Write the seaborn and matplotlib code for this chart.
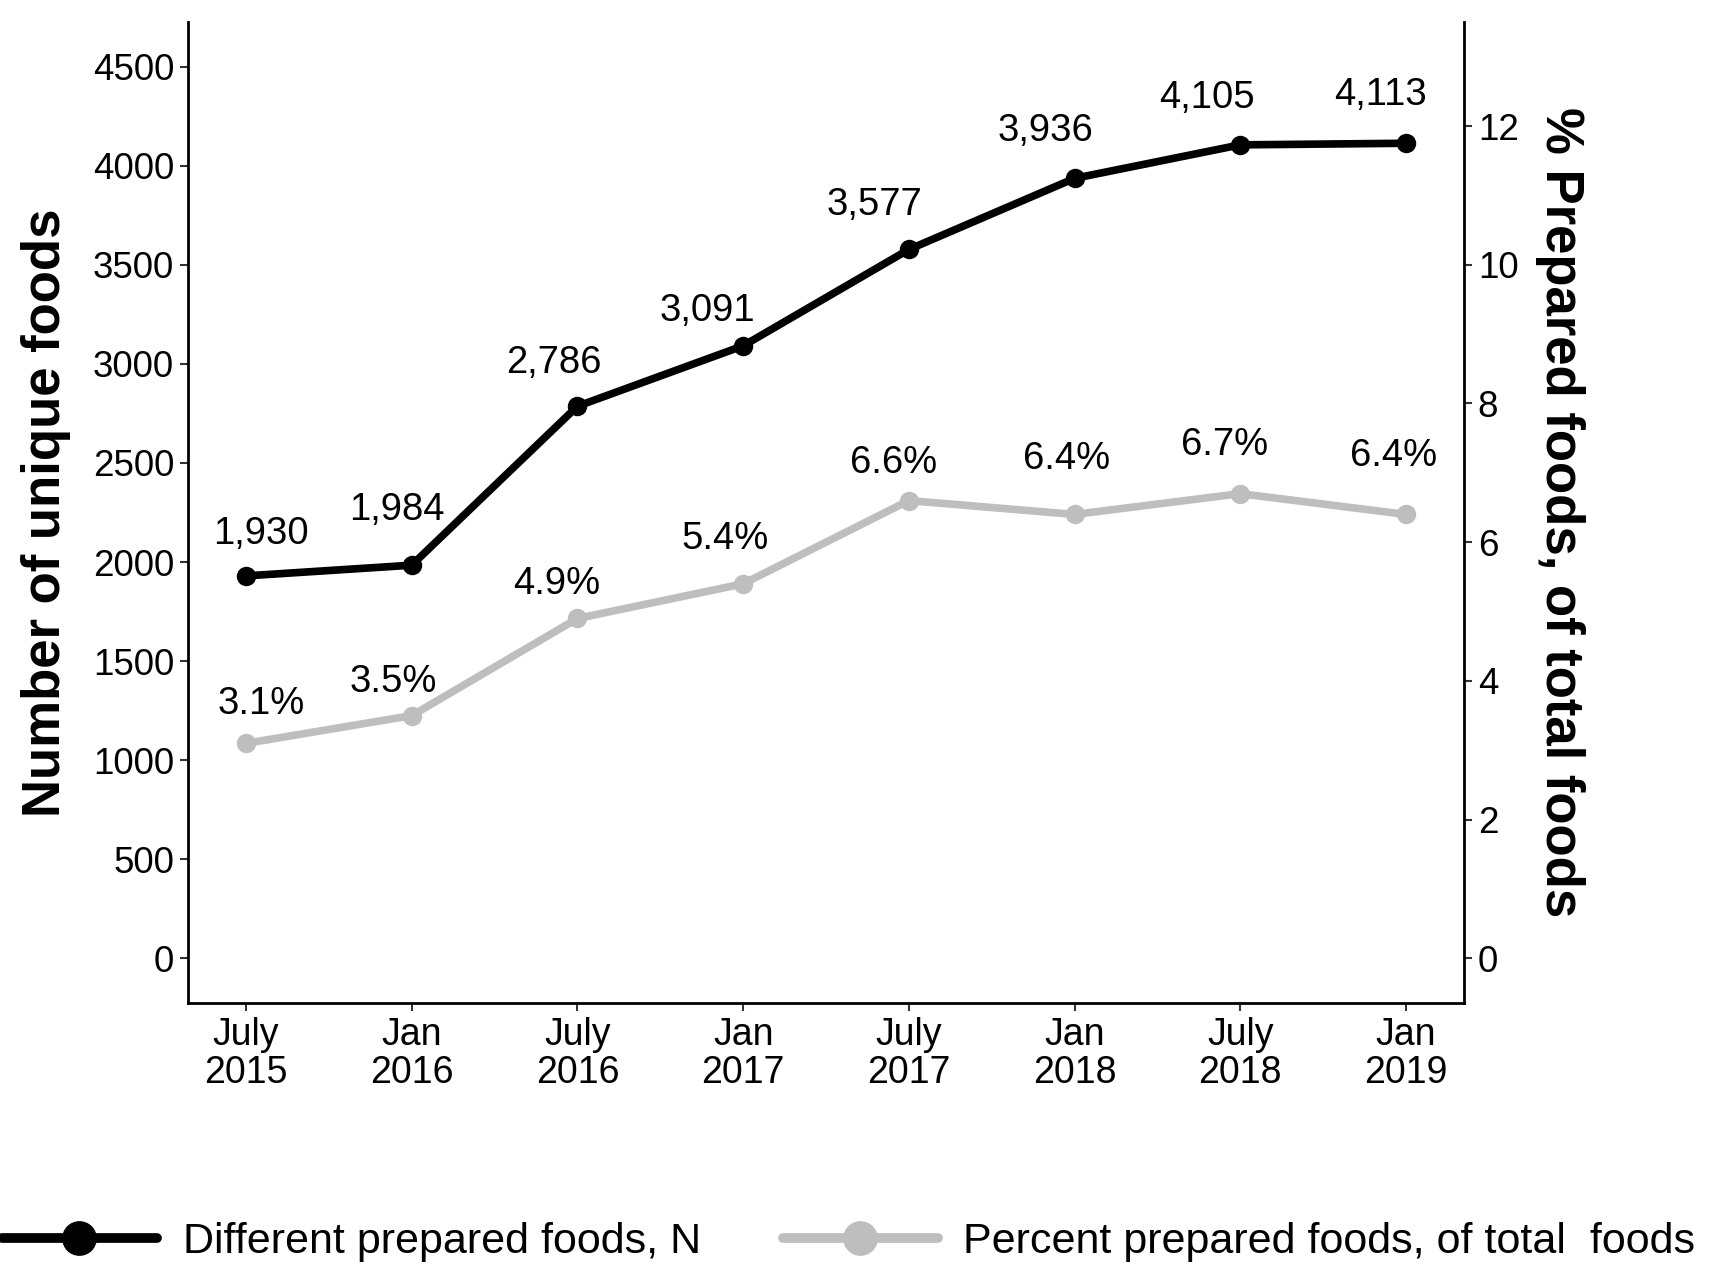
import numpy as np
import pandas as pd
import matplotlib
matplotlib.use("Agg")
import matplotlib.pyplot as plt
from matplotlib.lines import Line2D
import seaborn as sns

# survey waves and values
waves = ["July\n2015", "Jan\n2016", "July\n2016", "Jan\n2017",
         "July\n2017", "Jan\n2018", "July\n2018", "Jan\n2019"]
n_foods = [1930, 1984, 2786, 3091, 3577, 3936, 4105, 4113]
pct_foods = [3.1, 3.5, 4.9, 5.4, 6.6, 6.4, 6.7, 6.4]

# label nudges (points) so text sits like the original
n_dx = [11, -11, -17, -26, -25, -21, -24, -18]
n_dy = [30, 40, 31, 25, 32, 34, 34, 35]
p_dx = [11, -13, -15, -13, -11, -6, -11, -9]
p_dy = [28, 24, 25, 32, 27, 40, 35, 42]

BLACK = "#000000"
GREY = "#BEBEBE"
SCALE = 350  # left-axis units per percent point

sns.set_theme(style="white")
plt.rcParams["font.family"] = ["Liberation Sans", "DejaVu Sans"]
plt.rcParams.update({"text.color": "black", "axes.labelcolor": "black",
                     "xtick.color": "black", "ytick.color": "black"})

df = pd.DataFrame({"pos": np.arange(len(waves)), "n": n_foods, "pct": pct_foods})

fig = plt.figure(figsize=(17.11, 12.71), dpi=100)
ax = fig.add_axes([0.1099, 0.2109, 0.7457, 0.7718])
ax2 = ax.twinx()

sns.lineplot(data=df, x="pos", y="n", ax=ax, color=BLACK, lw=5.5,
             marker="o", markersize=14, markeredgewidth=0)
sns.lineplot(data=df, x="pos", y="pct", ax=ax2, color=GREY, lw=5.5,
             marker="o", markersize=14, markeredgewidth=0)

for i, v in enumerate(n_foods):
    ax.annotate(f"{v:,}", (df.pos[i], v), xytext=(n_dx[i], n_dy[i]),
                textcoords="offset points", ha="center", va="center",
                fontsize=27.5)
for i, v in enumerate(pct_foods):
    ax2.annotate(f"{v:.1f}%", (df.pos[i], v), xytext=(p_dx[i], p_dy[i]),
                 textcoords="offset points", ha="center", va="center",
                 fontsize=27.5)

ax.set_xlim(-0.35, 7.35)
ax.set_ylim(-225, 4725)
ax2.set_ylim(-225 / SCALE, 4725 / SCALE)
ax.set_yticks(range(0, 4501, 500))
ax2.set_yticks(range(0, 13, 2))
ax.set_xticks(df.pos)
ax.set_xticklabels(waves, fontsize=27, linespacing=1.08)
ax.tick_params(axis="y", labelsize=26.5)
ax2.tick_params(axis="y", labelsize=26.5)
for a in (ax, ax2):
    a.tick_params(length=6, width=1.5, color="#333333", pad=4, left=True, bottom=True)
    a.spines["top"].set_visible(False)
    for side in ("left", "bottom", "right"):
        a.spines[side].set_linewidth(2)
        a.spines[side].set_color("black")
ax.spines["right"].set_visible(False)
ax2.spines["left"].set_visible(False)
ax2.spines["bottom"].set_visible(False)
ax2.tick_params(axis="y", right=True, left=False)

ax.set_xlabel("")
ax.set_ylabel("Number of unique foods", fontsize=38, fontweight="bold", labelpad=16)
ax2.set_ylabel("% Prepared foods, of total foods", fontsize=38, fontweight="bold",
               rotation=-90, labelpad=48)

handles = [
    Line2D([], [], color=BLACK, lw=7, marker="o", markersize=24),
    Line2D([], [], color=GREY, lw=7, marker="o", markersize=24),
]
fig.legend(handles, ["Different prepared foods, N", "Percent prepared foods, of total  foods"],
           loc="center", bbox_to_anchor=(0.496, 0.023), ncol=2, frameon=False,
           fontsize=31, handlelength=3.6, columnspacing=1.9, handletextpad=0.6)

fig.savefig("out.png", dpi=100)
